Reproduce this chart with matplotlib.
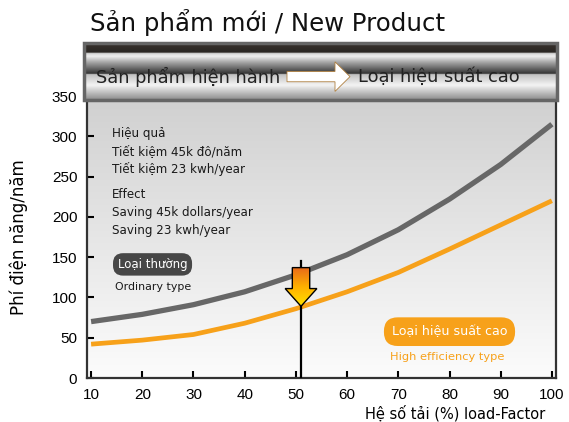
import numpy as np
import matplotlib
matplotlib.use("Agg")
import matplotlib.pyplot as plt
from matplotlib.colors import LinearSegmentedColormap
from matplotlib.patches import Polygon, Rectangle, FancyArrow

plt.rcParams['font.family'] = ['DejaVu Sans']

# =========================
# DATA
# =========================
load_factor = [10, 20, 30, 40, 50, 60, 70, 80, 90, 100]
ordinary = [70, 79, 91, 107, 128, 153, 184, 222, 265, 315]
high_eff = [42, 47, 54, 68, 86, 107, 131, 160, 190, 220]

x_ticks = [10, 20, 30, 40, 50, 60, 70, 80, 90, 100]
y_ticks = [0, 50, 100, 150, 200, 250, 300, 350]

# marker line / arrow at ~51%
marker_x = 51
marker_top = 145
arrow_from = 137
arrow_to = 89

effect_lines = ["Hiệu quả", "Tiết kiệm 45k đô/năm", "Tiết kiệm 23 kwh/year",
                "Effect", "Saving 45k dollars/year", "Saving 23 kwh/year"]

GRAY = "#676767"
ORANGE = "#f7a11a"
TICKFONT = "Liberation Sans"

fig = plt.figure(figsize=(5.69, 4.22), dpi=100)
W, H = 569, 422

# =========================
# MAIN AXES
# =========================
ax = fig.add_axes([87 / W, 1 - 378 / H, (556 - 87) / W, (378 - 96) / H])

bg = LinearSegmentedColormap.from_list("bg", ["#fcfcfc", "#d0d0d0"])
ax.imshow(np.linspace(0, 1, 256).reshape(-1, 1), cmap=bg, origin="lower",
          extent=[0, 1, 0, 1], transform=ax.transAxes, aspect="auto", zorder=0)

ax.plot(load_factor, ordinary, color=GRAY, lw=3.8, solid_capstyle="butt", zorder=3)
ax.plot(load_factor, high_eff, color=ORANGE, lw=3.4, solid_capstyle="butt", zorder=3)

# vertical marker
ax.plot([marker_x, marker_x], [0, marker_top], color="black", lw=1.6, zorder=4)

# gradient block arrow
sw, hw = 1.7, 3.1
head_base = 111
pts = [(marker_x - sw, arrow_from), (marker_x + sw, arrow_from),
       (marker_x + sw, head_base), (marker_x + hw, head_base),
       (marker_x, arrow_to), (marker_x - hw, head_base),
       (marker_x - sw, head_base)]
poly = Polygon(pts, closed=True, facecolor="none", edgecolor="black", lw=1.0, zorder=6)
ax.add_patch(poly)
acmap = LinearSegmentedColormap.from_list("arr", ["#ffe000", "#ffb000", "#e8681a"])
im = ax.imshow(np.linspace(0, 1, 256).reshape(-1, 1), cmap=acmap, origin="lower",
               extent=[marker_x - hw, marker_x + hw, arrow_to, arrow_from],
               aspect="auto", zorder=5)
im.set_clip_path(poly)
ax.set_xlim(9.2, 100.8)
ax.set_ylim(0, 350)

# effect text block
for txt, yv in zip(effect_lines, [304, 281.5, 259, 227.5, 205, 182.5]):
    ax.text(14.1, yv, txt, fontsize=8.6, color="#1a1a1a", va="center", ha="left", zorder=7)

ax.text(22.0, 141, "Loại thường", fontsize=8.5, color="white", ha="center", va="center",
        zorder=7, bbox=dict(boxstyle="round,pad=0.4,rounding_size=0.85",
                            fc="#474747", ec="none"))
ax.text(22.2, 112.5, "Ordinary type", fontsize=7.9, color="#1a1a1a",
        ha="center", va="center", zorder=7)

ax.text(80.0, 57.5, "Loại hiệu suất cao", fontsize=9.1, color="white",
        ha="center", va="center", zorder=7,
        bbox=dict(boxstyle="round,pad=0.62,rounding_size=1.1", fc=ORANGE, ec="none"))
ax.text(79.5, 26, "High efficiency type", fontsize=8.2, color=ORANGE,
        ha="center", va="center", zorder=7)

ax.set_xticks(x_ticks)
ax.set_yticks(y_ticks)
ax.tick_params(direction="in", length=5, width=1.5, labelsize=11, pad=7, colors="black")
for lab in ax.get_xticklabels() + ax.get_yticklabels():
    lab.set_fontfamily(TICKFONT)
for s in ax.spines.values():
    s.set_color("#333333")
    s.set_linewidth(1.6)

ax.set_ylabel("Phí điện năng/năm", fontsize=12, labelpad=17)
fig.text(545 / W, 1 - 413 / H, "Hệ số tải (%) load-Factor", fontsize=10.5,
         ha="right", va="center")

# =========================
# BANNER
# =========================
bax = fig.add_axes([84 / W, 1 - 100 / H, (557 - 84) / W, (100 - 43) / H])
bax.set_xlim(0, 1)
bax.set_ylim(0, 1)
bax.axis("off")
chrome = LinearSegmentedColormap.from_list("chrome", [
    (0.00, "#8a8a8a"), (0.26, "#f4f4f4"), (0.45, "#c0c0c0"),
    (0.465, "#333333"), (0.66, "#a4a4a4"), (0.77, "#eeeeee"),
    (0.82, "#d4d4d4"), (0.84, "#2a2622"), (1.00, "#3a3430")])
bax.imshow(np.linspace(0, 1, 256).reshape(-1, 1), cmap=chrome, origin="lower",
           extent=[0, 1, 0, 1], aspect="auto")
bax.add_patch(Rectangle((0, 0), 1, 1, fill=False, ec="#666666", lw=2.5,
                        transform=bax.transAxes, clip_on=False))
bax.text((96 - 84) / 473, 0.41, "Sản phẩm hiện hành", fontsize=12.8,
         color="#222222", ha="left", va="center")
bax.text((358 - 84) / 473, 0.41, "Loại hiệu suất cao", fontsize=12.8,
         color="#222222", ha="left", va="center")
bax.add_patch(FancyArrow((287 - 84) / 473, 0.41, (350 - 287) / 473, 0,
                         width=0.18, head_width=0.52, head_length=15 / 473,
                         length_includes_head=True, fc="white", ec="#b08040", lw=0.6))

fig.text(90 / W, 1 - 22 / H, "Sản phẩm mới / New Product", fontsize=17.6,
         ha="left", va="center", color="#111111")

fig.savefig("out.png", dpi=100)
